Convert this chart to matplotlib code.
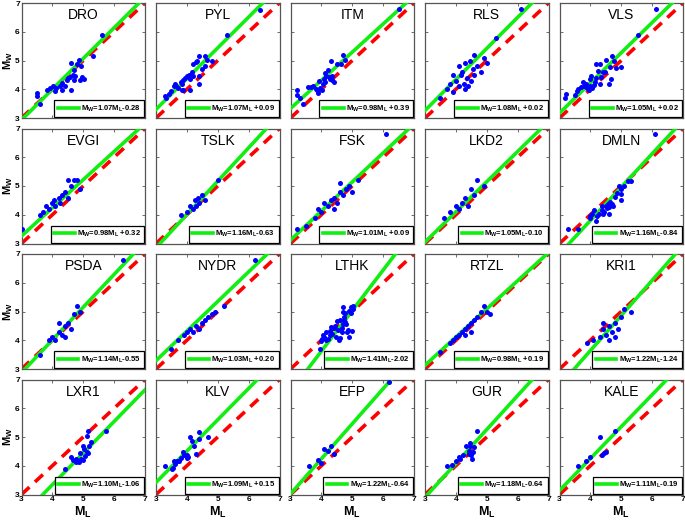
import matplotlib
matplotlib.use("Agg")
import matplotlib.pyplot as plt
from matplotlib.lines import Line2D

plt.rcParams['font.family'] = ['Liberation Sans', 'DejaVu Sans']
plt.rcParams['mathtext.fontset'] = 'custom'
plt.rcParams['mathtext.rm'] = 'Liberation Sans'
plt.rcParams['mathtext.bf'] = 'Liberation Sans:bold'
plt.rcParams['mathtext.it'] = 'Liberation Sans:italic'

stations = ["DRO", "PYL", "ITM", "RLS", "VLS",
            "EVGI", "TSLK", "FSK", "LKD2", "DMLN",
            "PSDA", "NYDR", "LTHK", "RTZL", "KRI1",
            "LXR1", "KLV", "EFP", "GUR", "KALE"]
slopes = [1.07, 1.07, 0.98, 1.08, 1.05,
          0.98, 1.16, 1.01, 1.05, 1.16,
          1.14, 1.03, 1.41, 0.98, 1.22,
          1.10, 1.09, 1.22, 1.18, 1.11]
intercepts = [-0.28, 0.09, 0.39, 0.02, 0.02,
              0.32, -0.63, 0.09, -0.10, -0.84,
              -0.55, 0.20, -2.02, 0.19, -1.24,
              -1.06, 0.15, -0.64, -0.64, -0.19]

dro_ml = [3.50, 3.50, 3.59, 3.81, 3.92, 4.02, 4.13, 4.09, 4.24, 4.31, 4.40, 4.46, 4.50, 4.57, 4.61, 4.31, 4.66, 4.70, 4.74, 4.81, 4.85, 4.92, 4.90, 4.96, 5.01, 4.61, 4.70, 5.62, 5.33]
dro_mw = [3.87, 3.76, 3.47, 3.98, 4.05, 4.10, 4.03, 3.93, 4.10, 4.21, 4.12, 4.31, 4.40, 4.42, 3.96, 3.96, 4.49, 4.31, 4.45, 4.89, 5.01, 4.80, 4.33, 4.42, 4.35, 4.91, 4.68, 5.89, 5.17]
pyl_ml = [3.30, 3.31, 3.42, 3.50, 3.57, 3.61, 3.65, 3.70, 3.80, 3.85, 3.89, 3.93, 4.00, 4.06, 4.10, 4.15, 4.19, 4.21, 4.28, 4.32, 4.40, 4.60, 4.64, 4.81, 4.60, 4.40, 4.40, 4.10, 3.89, 3.83, 5.31, 6.36, 4.49]
pyl_mw = [3.75, 3.68, 3.84, 3.93, 4.10, 4.19, 4.12, 4.05, 4.24, 4.19, 4.33, 4.40, 4.47, 4.49, 4.35, 4.59, 4.47, 4.89, 4.94, 4.98, 5.17, 5.17, 5.01, 4.98, 4.80, 4.47, 4.19, 3.98, 3.98, 3.98, 5.89, 6.76, 4.70]
itm_ml = [3.22, 3.22, 3.30, 3.41, 3.58, 3.65, 3.73, 3.82, 3.86, 3.90, 3.92, 3.97, 4.01, 4.05, 4.08, 4.12, 4.12, 4.16, 4.20, 4.25, 4.29, 4.33, 4.35, 4.40, 4.31, 4.51, 4.63, 4.70, 4.76, 6.53]
itm_mw = [3.98, 3.79, 3.70, 3.47, 4.07, 4.07, 4.10, 4.00, 3.96, 3.86, 4.28, 4.05, 3.98, 4.17, 4.35, 4.26, 4.56, 4.47, 4.68, 4.42, 4.35, 4.45, 4.31, 4.24, 4.98, 4.89, 4.89, 5.19, 5.03, 6.80]
rls_ml = [3.5, 3.7, 3.8, 3.9, 4.0, 4.1, 4.15, 4.2, 4.25, 4.3, 4.35, 4.4, 4.45, 4.5, 4.55, 4.6, 4.7, 4.8, 4.9, 5.0, 4.3, 4.1, 3.9, 4.6, 5.3, 6.1]
rls_mw = [3.7, 4.0, 4.2, 3.9, 4.3, 4.1, 4.5, 4.6, 4.2, 4.9, 4.4, 4.1, 5.0, 4.3, 4.7, 4.5, 4.8, 4.6, 5.1, 4.9, 4.0, 4.8, 4.5, 5.2, 5.8, 6.8]
vls_ml = [3.18, 3.20, 3.51, 3.57, 3.59, 3.70, 3.76, 3.78, 3.85, 3.89, 3.94, 3.98, 3.98, 4.02, 4.06, 4.11, 4.15, 4.17, 4.19, 4.24, 4.30, 4.32, 4.34, 4.41, 4.47, 4.49, 4.60, 4.62, 4.69, 4.77, 4.84, 4.99, 4.67, 5.55, 6.11]
vls_mw = [3.68, 3.82, 3.79, 3.93, 4.00, 4.07, 4.24, 4.12, 4.19, 4.05, 3.96, 4.10, 4.35, 4.45, 4.05, 4.14, 4.26, 4.40, 4.89, 4.63, 4.89, 4.19, 4.42, 4.59, 4.61, 5.03, 4.19, 4.77, 5.17, 4.98, 4.75, 4.77, 4.35, 5.89, 6.78]
evgi_ml = [3.0, 3.6, 3.7, 3.8, 3.9, 4.0, 4.05, 4.1, 4.2, 4.25, 4.3, 4.4, 4.5, 4.6, 4.7, 4.8, 4.9, 4.5]
evgi_mw = [3.5, 4.0, 4.1, 4.3, 4.2, 4.4, 4.5, 4.3, 4.6, 4.4, 4.7, 4.8, 5.2, 5.0, 5.2, 5.2, 4.9, 4.6]
tslk_ml = [3.8, 4.0, 4.1, 4.2, 4.25, 4.3, 4.35, 4.4, 4.5, 4.6, 5.0]
tslk_mw = [4.0, 4.1, 4.3, 4.2, 4.5, 4.3, 4.6, 4.4, 4.7, 4.5, 5.2]
fsk_ml = [3.2, 3.5, 3.8, 3.9, 4.0, 4.1, 4.2, 4.3, 4.4, 4.5, 4.6, 4.7, 4.8, 4.9, 5.0, 5.2, 4.4, 4.6, 6.1]
fsk_mw = [3.5, 3.6, 3.9, 4.2, 4.1, 4.4, 4.3, 4.5, 4.6, 4.4, 4.8, 4.7, 4.9, 5.0, 4.8, 5.2, 4.2, 5.1, 6.8]
lkd2_ml = [3.6, 3.8, 4.0, 4.1, 4.2, 4.3, 4.4, 4.5, 4.6, 4.7, 4.9]
lkd2_mw = [3.9, 4.1, 4.3, 4.2, 4.4, 4.6, 4.3, 4.9, 4.7, 5.2, 5.0]
dmln_ml = [3.29, 3.59, 3.98, 4.00, 4.06, 4.11, 4.19, 4.22, 4.28, 4.37, 4.39, 4.41, 4.45, 4.49, 4.54, 4.56, 4.60, 4.65, 4.69, 4.73, 4.60, 4.92, 4.99, 5.10, 5.23, 5.31, 4.99, 4.99, 6.09, 4.80, 4.86]
dmln_mw = [3.49, 3.51, 3.90, 3.97, 4.04, 4.16, 3.79, 3.95, 4.04, 4.18, 4.30, 4.04, 4.11, 4.32, 4.25, 4.39, 4.27, 4.44, 4.37, 4.32, 4.02, 4.99, 4.88, 4.99, 5.18, 5.18, 4.72, 4.51, 6.80, 4.62, 4.74]
psda_ml = [3.6, 3.9, 4.0, 4.1, 4.2, 4.3, 4.4, 4.5, 4.6, 4.7, 4.8, 4.9, 4.4, 4.2, 6.3]
psda_mw = [3.5, 4.0, 4.1, 4.0, 4.3, 4.2, 4.5, 4.6, 4.4, 4.9, 5.2, 5.0, 4.1, 4.6, 6.8]
nydr_ml = [3.5, 3.7, 3.9, 4.0, 4.1, 4.2, 4.3, 4.4, 4.5, 4.6, 4.7, 4.8, 4.9, 5.2, 6.2]
nydr_mw = [3.7, 4.0, 4.2, 4.3, 4.4, 4.3, 4.5, 4.4, 4.6, 4.7, 4.8, 4.9, 5.0, 5.2, 6.8]
lthk_ml = [3.95, 3.99, 4.01, 4.05, 4.10, 4.14, 4.14, 4.23, 4.27, 4.29, 4.31, 4.35, 4.40, 4.44, 4.46, 4.51, 4.53, 4.57, 4.61, 4.66, 4.68, 4.70, 4.70, 4.70, 4.72, 4.74, 4.78, 4.81, 4.83, 4.87, 4.89, 4.91, 4.96, 4.96, 5.00, 5.02, 5.04, 4.61, 4.78]
lthk_mw = [3.71, 3.97, 4.06, 4.20, 4.13, 4.27, 4.02, 4.06, 4.18, 4.32, 4.46, 4.23, 4.44, 4.51, 4.13, 4.67, 4.34, 4.02, 4.09, 4.27, 4.44, 4.56, 5.16, 5.00, 4.81, 4.70, 4.65, 4.56, 4.27, 4.34, 4.11, 5.02, 5.14, 4.95, 4.32, 5.07, 5.19, 4.72, 4.95]
rtzl_ml = [3.5, 3.8, 3.9, 4.0, 4.1, 4.2, 4.3, 4.4, 4.5, 4.6, 4.7, 4.8, 4.9, 5.0, 5.1, 4.5, 4.3]
rtzl_mw = [3.6, 3.9, 4.0, 4.1, 4.2, 4.3, 4.4, 4.5, 4.6, 4.7, 4.8, 5.0, 5.2, 5.0, 4.9, 4.3, 4.2]
kri1_ml = [3.9, 4.1, 4.3, 4.4, 4.5, 4.6, 4.7, 4.8, 4.9, 5.0, 5.1, 4.6, 4.8, 4.4, 5.3]
kri1_mw = [3.9, 4.0, 4.1, 4.4, 4.2, 4.5, 4.3, 4.6, 4.4, 4.8, 5.1, 4.0, 4.1, 4.6, 5.0]
lxr1_ml = [4.42, 4.59, 4.68, 4.78, 4.87, 4.94, 5.00, 5.00, 5.02, 5.06, 5.13, 5.15, 4.89, 4.78, 5.13, 5.15, 5.19, 5.24, 5.73]
lxr1_mw = [3.89, 4.30, 4.19, 4.12, 4.12, 4.23, 4.19, 4.70, 4.60, 4.35, 4.49, 4.44, 4.44, 4.23, 5.02, 5.20, 4.70, 4.81, 5.20]
klv_ml = [3.30, 3.52, 3.58, 3.60, 3.67, 3.73, 3.80, 3.86, 3.92, 3.99, 4.01, 4.03, 4.10, 4.18, 4.23, 4.31, 4.40, 4.40, 4.70, 3.56]
klv_mw = [4.00, 3.89, 4.18, 4.07, 4.16, 4.18, 4.28, 4.48, 4.37, 4.39, 4.28, 4.32, 4.99, 4.87, 4.69, 4.41, 5.17, 4.94, 4.99, 3.91]
efp_ml = [3.6, 3.9, 4.0, 4.1, 4.2, 4.3, 4.4, 6.2]
efp_mw = [4.0, 4.2, 4.1, 4.6, 4.5, 4.7, 4.4, 6.9]
gur_ml = [3.70, 3.87, 4.00, 4.09, 4.13, 4.22, 4.34, 4.41, 4.43, 4.45, 4.47, 4.49, 4.52, 4.54, 4.58, 4.69]
gur_mw = [4.00, 4.02, 4.18, 4.30, 4.23, 4.37, 4.69, 4.41, 4.53, 4.78, 4.69, 4.37, 4.25, 4.48, 4.64, 5.20]
kale_ml = [3.59, 3.87, 3.98, 4.30, 4.39, 4.43, 4.49, 4.80]
kale_mw = [4.00, 4.18, 4.30, 4.99, 4.37, 4.44, 4.48, 5.20]

ml_data = [dro_ml, pyl_ml, itm_ml, rls_ml, vls_ml,
           evgi_ml, tslk_ml, fsk_ml, lkd2_ml, dmln_ml,
           psda_ml, nydr_ml, lthk_ml, rtzl_ml, kri1_ml,
           lxr1_ml, klv_ml, efp_ml, gur_ml, kale_ml]
mw_data = [dro_mw, pyl_mw, itm_mw, rls_mw, vls_mw,
           evgi_mw, tslk_mw, fsk_mw, lkd2_mw, dmln_mw,
           psda_mw, nydr_mw, lthk_mw, rtzl_mw, kri1_mw,
           lxr1_mw, klv_mw, efp_mw, gur_mw, kale_mw]

ticks = [3, 4, 5, 6, 7]

W, H = 685, 521
fig = plt.figure(figsize=(W / 100, H / 100), dpi=100)

col_left = [21.5, 156, 290.5, 425, 559.5]
row_top = [3, 128.5, 254, 379.5]
aw, ah = 123.5, 115

spine_col = '#555555'
green = '#11ee11'
xx = [3, 7]
for i, name in enumerate(stations):
    r, c = divmod(i, 5)
    ax = fig.add_axes([col_left[c] / W, 1 - (row_top[r] + ah) / H, aw / W, ah / H])
    ax.set_xlim(3, 7)
    ax.set_ylim(3, 7)
    ax.plot(xx, xx, color='red', lw=2.6, dashes=(3.0, 2.1), zorder=2)
    a, b = slopes[i], intercepts[i]
    ax.plot(xx, [a * v + b for v in xx], color=green, lw=2.6, zorder=3)
    ax.plot(ml_data[i], mw_data[i], 'o', color='#0000ff', ms=3.6, mec='none', zorder=4)
    ax.set_xticks(ticks)
    ax.set_yticks(ticks)
    ax.tick_params(direction='in', length=2.5, width=0.6, top=True, right=True,
                   colors=spine_col, labelsize=6, labelcolor='black', pad=1.2)
    for s in ax.spines.values():
        s.set_color(spine_col)
        s.set_linewidth(0.9)
    for lab in ax.get_xticklabels() + ax.get_yticklabels():
        lab.set_fontweight('bold')
    if c != 0:
        ax.set_yticklabels([])
    else:
        ax.text(-0.107, 0.5, r'$\mathbf{M_W}$', transform=ax.transAxes, fontsize=8,
                rotation=90, ha='center', va='center')
    if r != 3:
        ax.set_xticklabels([])
    else:
        ax.set_xlabel(r'$\mathbf{M_L}$', fontsize=9, labelpad=1)
    ax.text(0.5, 0.895, name, transform=ax.transAxes, ha='center', va='center',
            fontsize=10)
    sign = '-' if b < 0 else ' +'
    lbl = r'$\mathbf{M_W}$=%.2f$\mathbf{M_L}$%s%.2f' % (a, sign, abs(b))
    h = Line2D([], [], color=green, lw=2.6)
    leg = ax.legend([h], [lbl], loc='lower right',
                    prop={'weight': 'bold', 'size': 5.5},
                    handlelength=2.7, handletextpad=0.3, borderpad=0.45,
                    borderaxespad=0.1, fancybox=False, framealpha=1)
    leg.get_frame().set_edgecolor('black')
    leg.get_frame().set_linewidth(0.9)

fig.savefig('out.png', dpi=100)
